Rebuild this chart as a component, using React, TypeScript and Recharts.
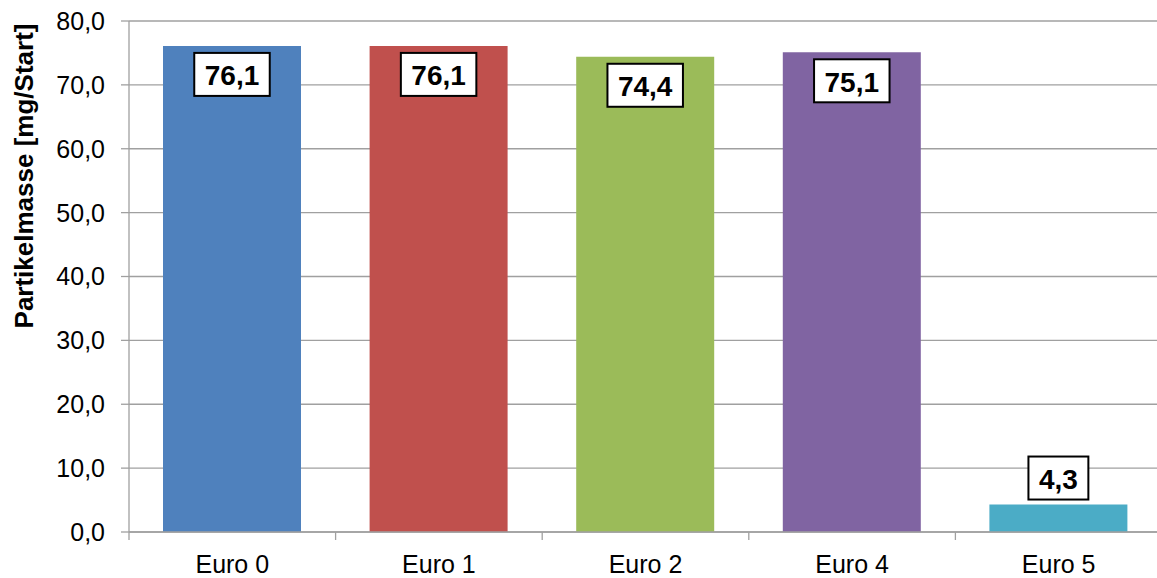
import { Bar, BarChart, CartesianGrid, Cell, LabelList, XAxis, YAxis } from "recharts";

// Partikelmasse je Kaltstart, nach Abgasnorm
const categories = ["Euro 0", "Euro 1", "Euro 2", "Euro 4", "Euro 5"];
const values = [76.1, 76.1, 74.4, 75.1, 4.3];
const yTicks = [0, 10, 20, 30, 40, 50, 60, 70, 80];
const barColors = ["#4F81BD", "#C0504D", "#9BBB59", "#8064A2", "#4BACC6"];
const yTitle = "Partikelmasse [mg/Start]";

const data = categories.map((name, i) => ({ name, value: values[i] }));

const FONT = '"Liberation Sans", Arial, Helvetica, sans-serif';
const GRID = "#a0a0a0";

const fmt = (v: number) => v.toFixed(1).replace(".", ",");

// rough Arial bold advance widths, enough to size the label box
const boxTextWidth = (s: string, size: number) =>
  s.split("").reduce((w, c) => w + (c === "," ? 0.278 : 0.556) * size, 0);

function XTick({ x, y, payload }: any) {
  const half = payload?.offset ?? 0;
  return (
    <g>
      <line x1={x - half} x2={x - half} y1={y - 8} y2={y} stroke={GRID} strokeWidth={1.3} />
      <text x={x} y={y + 33} textAnchor="middle" fontSize={25} fontFamily={FONT} fill="#000">
        {payload.value}
      </text>
    </g>
  );
}

function ValueBox(props: any) {
  const { x, y, width, height, value } = props;
  const text = fmt(Number(value));
  const size = 28;
  const w = boxTextWidth(text, size) + 21;
  const h = 43;
  const inside = Number(height) > 60;
  const top = inside ? Number(y) + 7 : Number(y) - 5 - h;
  const cx = Number(x) + Number(width) / 2;
  return (
    <g>
      <rect x={cx - w / 2} y={top} width={w} height={h} fill="#fff" stroke="#000" strokeWidth={2} />
      <text
        x={cx}
        y={top + h / 2 + 11}
        textAnchor="middle"
        fontSize={size}
        fontWeight="bold"
        fontFamily={FONT}
        fill="#000"
      >
        {text}
      </text>
    </g>
  );
}

function TitleLabel() {
  return (
    <text
      x={24}
      y={176}
      transform="rotate(-90 24 176)"
      textAnchor="middle"
      dominantBaseline="central"
      fontSize={26}
      fontWeight="bold"
      fontFamily={FONT}
      fill="#000"
    >
      {yTitle}
    </text>
  );
}

export default function App() {
  return (
    <div
      style={{
        position: "absolute",
        left: 0,
        top: 0,
        width: 1157,
        height: 578,
        overflow: "hidden",
        background: "#fff",
      }}
    >
      <BarChart
        width={1170}
        height={578}
        data={data}
        margin={{ top: 21, right: 8, left: 0, bottom: 6 }}
        barSize={138}
      >
        <CartesianGrid vertical={false} stroke={GRID} strokeWidth={1.3} />
        <XAxis
          dataKey="name"
          height={40}
          interval={0}
          axisLine={{ stroke: GRID, strokeWidth: 1.3 }}
          tickLine={false}
          tickSize={8}
          tickMargin={0}
          tick={<XTick />}
        />
        <YAxis
          width={129}
          domain={[0, 80]}
          ticks={yTicks}
          interval={0}
          tickFormatter={fmt}
          tickSize={8}
          tickMargin={16}
          axisLine={{ stroke: GRID, strokeWidth: 1.3 }}
          tickLine={{ stroke: GRID, strokeWidth: 1.3 }}
          tick={{ fill: "#000", fontSize: 25, fontFamily: FONT }}
          label={{ value: yTitle, content: TitleLabel }}
        />
        <Bar dataKey="value" isAnimationActive={false}>
          {data.map((d, i) => (
            <Cell key={d.name} fill={barColors[i]} />
          ))}
          <LabelList dataKey="value" content={ValueBox} />
        </Bar>
      </BarChart>
    </div>
  );
}
